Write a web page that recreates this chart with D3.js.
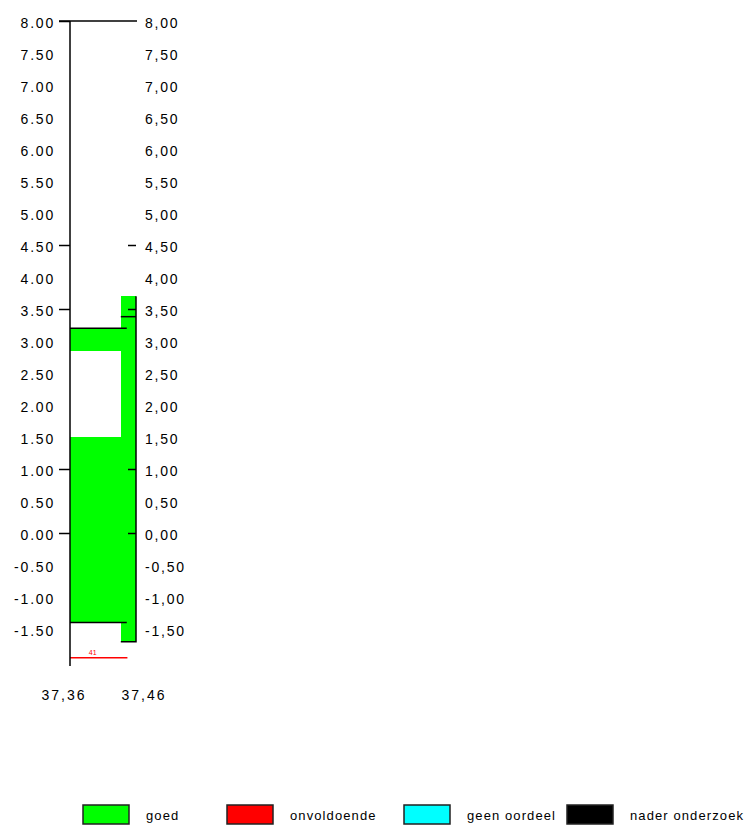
<!DOCTYPE html>
<html>
<head>
<meta charset="utf-8">
<script src="https://cdn.jsdelivr.net/npm/d3@7"></script>
<style>
  body { margin: 0; background: #fff; }
  svg { display: block; }
  text { font-family: "Liberation Sans", Arial, sans-serif; fill: #000; }
</style>
</head>
<body>
<svg id="chart" width="750" height="825"></svg>
<script>
// ---- data ----
const yLabelValues = [8, 7.5, 7, 6.5, 6, 5.5, 5, 4.5, 4, 3.5, 3, 2.5, 2, 1.5, 1, 0.5, 0, -0.5, -1, -1.5];
const yTickMarks = [8, 4.5, 3.5, 1, 0];
const boreholePositions = [37.36, 37.46];
const boreholeLabels = ["37,36", "37,46"];

// layers (soil classification blocks)
const layerX0 = [37.36, 37.36, 37.437];
const layerX1 = [37.437, 37.437, 37.46];
const layerTop = [3.2, 1.5, 3.7];
const layerBottom = [2.85, -1.4, -1.7];
const layerClass = ["goed", "goed", "goed"];

// black boundary lines
const boundaryValue = [3.2, -1.4, 3.38];
const boundaryX0 = [37.36, 37.36, 37.437];
const boundaryX1 = [37.446, 37.446, 37.46];

// red marker
const markerValue = [-1.95];
const markerX0 = [37.36];
const markerX1 = [37.447];
const markerLabel = ["41"];

const legendNames = ["goed", "onvoldoende", "geen oordeel", "nader onderzoek"];
const legendColors = ["#00ff00", "#ff0000", "#00ffff", "#000000"];

// ---- scales ----
const svg = d3.select("#chart");
const y = d3.scaleLinear().domain([8, -1.5]).range([21, 629]);
const x = d3.scaleLinear().domain([37.36, 37.46]).range([70, 136]);
const color = d3.scaleOrdinal().domain(legendNames).range(legendColors);
const yBottom = -2.08;

// layers
const layers = layerTop.map((t, i) => ({x0: layerX0[i], x1: layerX1[i], top: t, bottom: layerBottom[i], cls: layerClass[i]}));
svg.append("g").attr("shape-rendering", "crispEdges").selectAll("rect").data(layers).join("rect")
  .attr("x", d => Math.round(x(d.x0)))
  .attr("y", d => y(d.top))
  .attr("width", d => Math.round(x(d.x1)) - Math.round(x(d.x0)))
  .attr("height", d => y(d.bottom) - y(d.top))
  .attr("fill", d => color(d.cls));

// right border of second borehole column
const lastLayer = layers[2];
svg.append("path")
  .attr("d", `M${x(lastLayer.x1)},${y(lastLayer.top)} V${y(lastLayer.bottom)} H${x(lastLayer.x0)}`)
  .attr("fill", "none").attr("stroke", "#000").attr("stroke-width", 1.5);

// boundaries
svg.append("g").selectAll("line").data(boundaryValue).join("line")
  .attr("x1", (d, i) => x(boundaryX0[i]))
  .attr("x2", (d, i) => x(boundaryX1[i]))
  .attr("y1", d => y(d)).attr("y2", d => y(d))
  .attr("stroke", "#000").attr("stroke-width", 1.5);

// marker
svg.append("g").selectAll("line").data(markerValue).join("line")
  .attr("x1", (d, i) => x(markerX0[i]))
  .attr("x2", (d, i) => x(markerX1[i]))
  .attr("y1", d => y(d)).attr("y2", d => y(d))
  .attr("stroke", "#ff0000").attr("stroke-width", 1.5);
svg.append("g").selectAll("text").data(markerValue).join("text")
  .attr("x", (d, i) => (x(markerX0[i]) + x(markerX1[i])) / 2 - 6)
  .attr("y", d => y(d) - 3)
  .attr("text-anchor", "middle")
  .style("font-size", "7px").style("fill", "#ff0000")
  .text((d, i) => markerLabel[i]);

// top line
svg.append("line")
  .attr("x1", x(37.36) - 11).attr("x2", x(37.46) + 1)
  .attr("y1", y(8)).attr("y2", y(8))
  .attr("stroke", "#000").attr("stroke-width", 1.5);

// left axis
const leftAxis = svg.append("g").attr("transform", `translate(${x(37.36)},0)`);
leftAxis.append("line").attr("y1", y(8)).attr("y2", y(yBottom))
  .attr("stroke", "#000").attr("stroke-width", 1.5);
leftAxis.call(d3.axisLeft(y).tickValues(yTickMarks).tickSize(11).tickFormat(""))
  .call(g => g.select(".domain").remove())
  .call(g => g.selectAll(".tick line").attr("stroke-width", 1.5));

// right axis ticks (inward)
const rightAxis = svg.append("g").attr("transform", `translate(${x(37.46)},0)`);
rightAxis.call(d3.axisLeft(y).tickValues(yTickMarks.slice(1)).tickSize(8).tickFormat(""))
  .call(g => g.select(".domain").remove())
  .call(g => g.selectAll(".tick line").attr("stroke-width", 1.5));

// y labels
svg.append("g").selectAll("text").data(yLabelValues).join("text")
  .attr("x", 55).attr("y", d => y(d) + 7)
  .attr("text-anchor", "end")
  .style("font-size", "14px").style("letter-spacing", "1.8px")
  .text(d => d3.format(".2f")(d).replace("−", "-"));
svg.append("g").selectAll("text").data(yLabelValues).join("text")
  .attr("x", 145).attr("y", d => y(d) + 7)
  .attr("text-anchor", "start")
  .style("font-size", "14px").style("letter-spacing", "1.8px")
  .text(d => d3.format(".2f")(d).replace("−", "-").replace(".", ","));

// x labels
const xOffsets = [-6, 8];
svg.append("g").selectAll("text").data(boreholePositions).join("text")
  .attr("x", (d, i) => x(d) + xOffsets[i]).attr("y", 700)
  .attr("text-anchor", "middle")
  .style("font-size", "14px").style("letter-spacing", "2px")
  .text((d, i) => boreholeLabels[i]);

// legend
const legendX = [83, 227, 404, 567];
const lg = svg.append("g").selectAll("g").data(legendNames).join("g")
  .attr("transform", (d, i) => `translate(${legendX[i]},805)`);
lg.append("rect").attr("width", 46).attr("height", 19)
  .attr("fill", d => color(d)).attr("stroke", "#222").attr("stroke-width", 1.5);
lg.append("text").attr("x", 63).attr("y", 15)
  .style("font-size", "13px").style("letter-spacing", "1.1px")
  .text(d => d);
</script>
</body>
</html>
